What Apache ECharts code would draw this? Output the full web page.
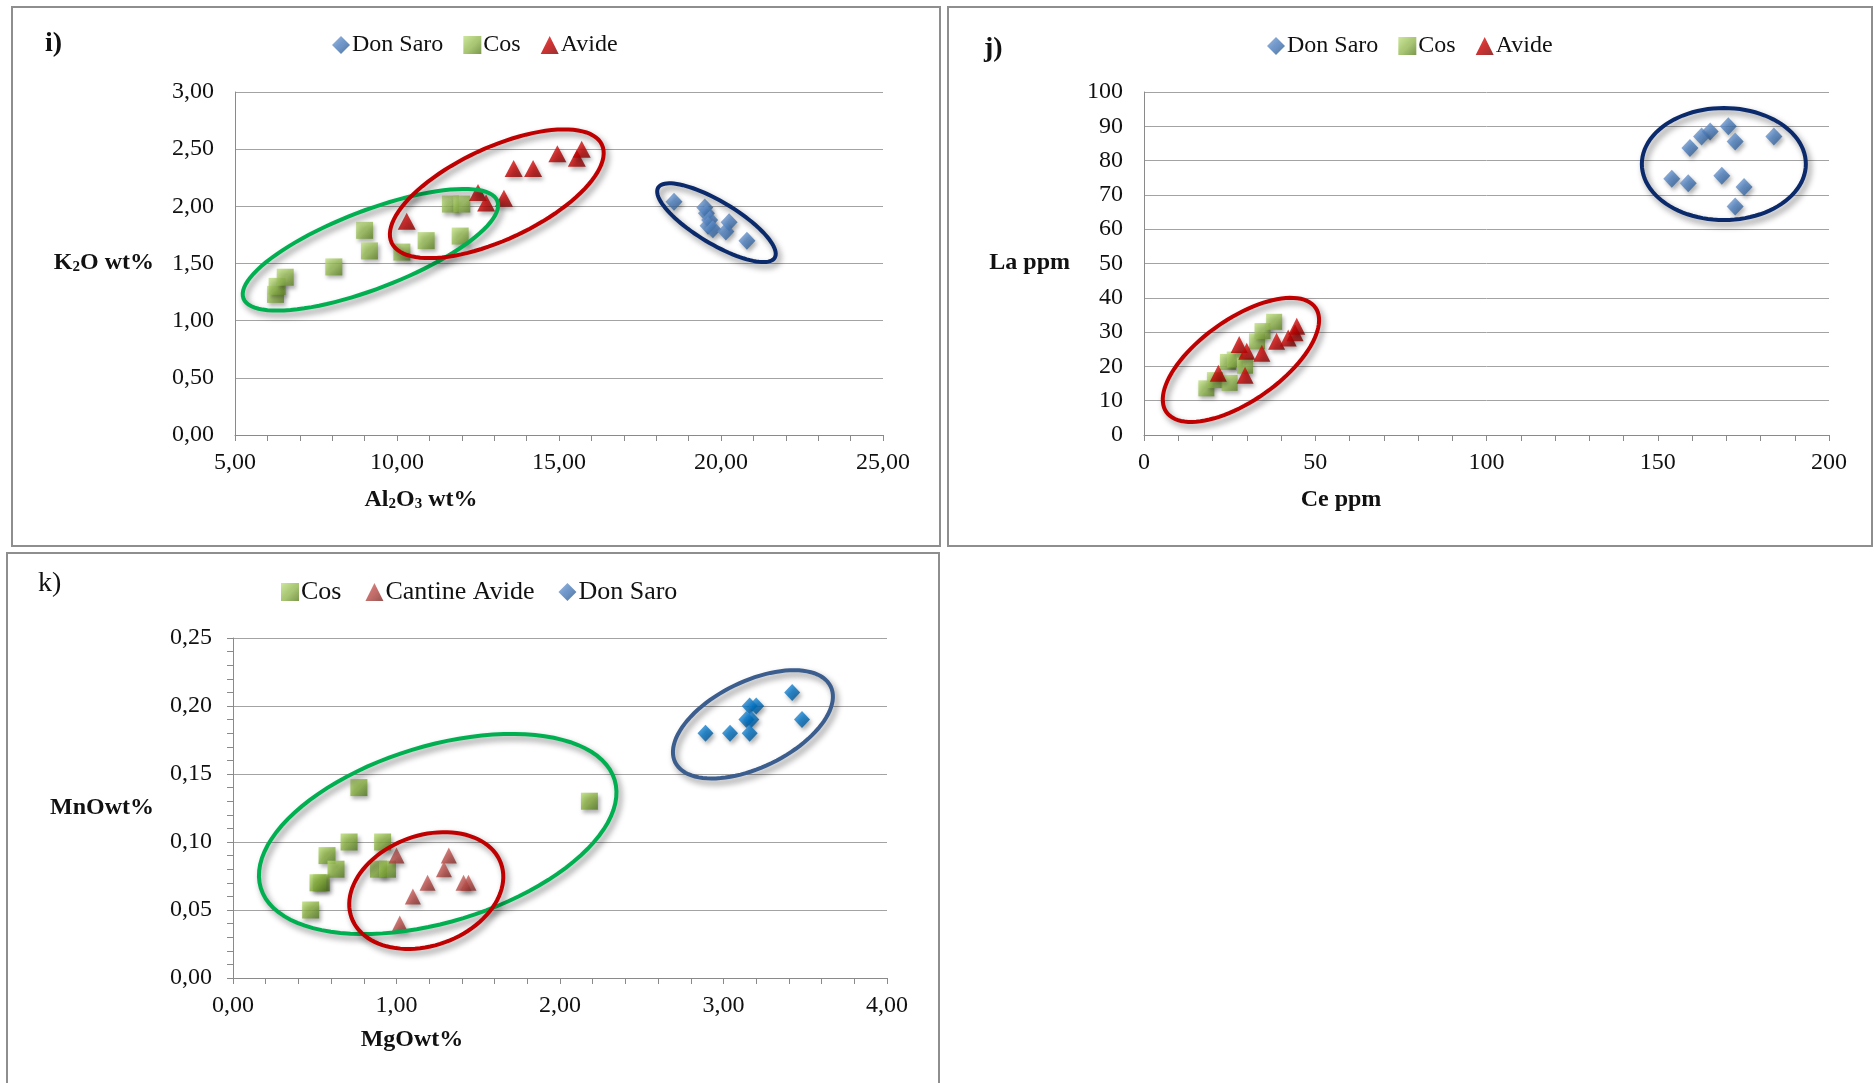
<!DOCTYPE html>
<html>
<head>
<meta charset="utf-8">
<title>Al2O3–K2O, Ce–La, MgO–MnO</title>
<script src="https://cdn.jsdelivr.net/npm/echarts@6/dist/echarts.min.js"></script>
<style>
  html, body { margin: 0; padding: 0; background: #ffffff; }
  #chart { width: 1874px; height: 1083px; }
</style>
</head>
<body>
<div id="chart"></div>
<script>
// ---- i) K2O wt% vs Al2O3 wt%  [Al2O3, K2O]
const donSaroI = [[18.55, 2.04], [19.5, 1.99], [19.55, 1.94], [19.65, 1.88], [19.6, 1.83],
                  [19.75, 1.80], [20.25, 1.86], [20.15, 1.78], [20.8, 1.70]];
const cosI = [[6.25, 1.23], [6.3, 1.30], [6.55, 1.38], [8.05, 1.47], [9.0, 1.79], [9.15, 1.61],
              [10.15, 1.60], [10.9, 1.70], [11.95, 1.74], [11.65, 2.02], [12.0, 2.02]];
const avideI = [[10.3, 1.87], [12.5, 2.12], [12.75, 2.03], [13.3, 2.07], [13.6, 2.33],
                [14.2, 2.33], [14.95, 2.46], [15.55, 2.42], [15.7, 2.50]];

// ---- j) La ppm vs Ce ppm  [Ce, La]
const donSaroJ = [[170.6, 90.0], [165.3, 88.5], [162.8, 87.0], [172.6, 85.6], [159.4, 83.7],
                  [183.9, 87.0], [154.1, 74.7], [158.9, 73.4], [168.7, 75.6], [175.2, 72.3],
                  [172.6, 66.6]];
const cosJ = [[18.2, 13.6], [20.7, 16.0], [24.5, 21.3], [26.5, 22.0], [25.0, 15.2],
              [29.5, 20.2], [33.0, 27.3], [34.6, 30.3], [38.0, 33.0]];
const avideJ = [[21.7, 18.0], [27.8, 26.4], [30.0, 24.4], [34.4, 23.8], [29.5, 17.4],
                [38.7, 27.3], [42.1, 28.3], [44.1, 29.8], [44.6, 31.7]];

// ---- k) MnO wt% vs MgO wt%  [MgO, MnO]
const cosK = [[0.77, 0.14], [2.18, 0.13], [0.71, 0.10], [0.915, 0.10], [0.575, 0.09],
              [0.63, 0.08], [0.54, 0.07], [0.52, 0.07], [0.89, 0.08], [0.945, 0.08],
              [0.475, 0.05]];
const avideK = [[1.0, 0.09], [1.32, 0.09], [1.29, 0.08], [1.19, 0.07], [1.41, 0.07],
                [1.44, 0.07], [1.10, 0.06], [1.02, 0.04]];
const donSaroK = [[3.42, 0.21], [3.16, 0.20], [3.20, 0.20], [3.14, 0.19], [3.17, 0.19],
                  [3.48, 0.19], [2.89, 0.18], [3.04, 0.18], [3.16, 0.18]];

// axis ranges / tick steps
const axisI = { x: [5, 25, 5], y: [0, 3, 0.5] };
const axisJ = { x: [0, 200, 50], y: [0, 100, 10] };
const axisK = { x: [0, 4, 1], y: [0, 0.25, 0.05] };

// ---------------------------------------------------------------------------
const FONT = '"Liberation Serif", "Times New Roman", serif';
const AXIS_GREY = '#8a8a8a';
const GRID_GREY = '#a3a3a3';
const LINE_GREEN = '#00b050';
const LINE_RED = '#c00000';
const LINE_NAVY = '#0b2a6b';
const LINE_STEEL = '#3b5e8e';

const G = echarts.graphic;
function bevel(light, mid, dark) {
  return new G.LinearGradient(0, 0, 1, 1, [
    { offset: 0, color: light }, { offset: 0.48, color: mid },
    { offset: 0.52, color: mid }, { offset: 1, color: dark }
  ]);
}
const markerShadow = {
  shadowBlur: 4, shadowOffsetX: 2, shadowOffsetY: 3, shadowColor: 'rgba(0,0,0,0.38)'
};
const STYLE = {
  blue:    { color: bevel('#86ace0', '#4a7cba', '#244f82'), ...markerShadow },
  green:   { color: bevel('#c2e184', '#94b953', '#5a7e20'), ...markerShadow },
  red:     { color: bevel('#e8302a', '#c00000', '#7a0000'), ...markerShadow },
  greenK:  { color: bevel('#b7dd72', '#86ad3e', '#4f7420'), ...markerShadow },
  redK:    { color: bevel('#d97a74', '#b64a46', '#7d2825'), ...markerShadow },
  blueK:   { color: bevel('#3d9be4', '#0070c0', '#00477e'), ...markerShadow }
};

const comma = d => v => v.toFixed(d).replace('.', ',');

function xAxisOf(grid, r, fmt) {
  return {
    gridIndex: grid, type: 'value', min: r[0], max: r[1], interval: r[2],
    axisLine: { show: true, onZero: false, lineStyle: { color: AXIS_GREY, width: 1 } },
    axisTick: { show: true, length: 6, lineStyle: { color: AXIS_GREY } },
    minorTick: { show: true, splitNumber: 5, length: 6, lineStyle: { color: AXIS_GREY } },
    splitLine: { show: false },
    axisLabel: { margin: 16, fontFamily: FONT, fontSize: 24, color: '#111', formatter: fmt }
  };
}
function yAxisOf(grid, r, fmt, ticks) {
  return {
    gridIndex: grid, type: 'value', min: r[0], max: r[1], interval: r[2],
    axisLine: { show: true, onZero: false, lineStyle: { color: AXIS_GREY, width: 1 } },
    axisTick: { show: ticks, length: 6, lineStyle: { color: AXIS_GREY } },
    minorTick: { show: ticks, splitNumber: 5, length: 6, lineStyle: { color: AXIS_GREY } },
    splitLine: { show: true, lineStyle: { color: GRID_GREY, width: 1 } },
    axisLabel: { margin: 21, fontFamily: FONT, fontSize: 24, color: '#111', formatter: fmt }
  };
}

function scatter(grid, name, data, symbol, size, style) {
  return {
    type: 'scatter', name, data, symbol, symbolSize: size,
    xAxisIndex: grid, yAxisIndex: grid, itemStyle: style, z: 3,
    emphasis: { disabled: true }
  };
}

// hand-drawn style group outlines (centre in axis units, radii in px, tilt in degrees)
function outline(grid, o) {
  return {
    type: 'custom', xAxisIndex: grid, yAxisIndex: grid, silent: true, z: 8, clip: false,
    data: [o.center],
    renderItem(params, api) {
      const c = api.coord([api.value(0), api.value(1)]);
      const t = o.tilt * Math.PI / 180, ct = Math.cos(t), st = Math.sin(t);
      const pts = [];
      for (let i = 0; i < 96; i++) {
        const a = i / 96 * Math.PI * 2;
        const ex = o.rx * Math.cos(a), ey = o.ry * Math.sin(a);
        pts.push([c[0] + ex * ct - ey * st, c[1] - (ex * st + ey * ct)]);
      }
      return {
        type: 'polygon', shape: { points: pts },
        style: {
          fill: 'none', stroke: o.color, lineWidth: 4,
          shadowBlur: 6, shadowOffsetX: 3, shadowOffsetY: 4, shadowColor: 'rgba(0,0,0,0.45)'
        }
      };
    }
  };
}

const outlinesI = [
  { center: [9.18, 1.62], rx: 136, ry: 39, tilt: 21, color: LINE_GREEN },
  { center: [13.08, 2.11], rx: 116, ry: 46, tilt: 25, color: LINE_RED },
  { center: [19.86, 1.857], rx: 68, ry: 21, tilt: -31, color: LINE_NAVY }
];
const outlinesJ = [
  { center: [169.3, 79.0], rx: 82, ry: 56, tilt: 0, color: LINE_NAVY },
  { center: [28.3, 21.9], rx: 91, ry: 41, tilt: 35, color: LINE_RED }
];
const outlinesK = [
  { center: [1.252, 0.1059], rx: 185, ry: 88, tilt: 17, color: LINE_GREEN },
  { center: [1.182, 0.0643], rx: 79.5, ry: 55, tilt: 20, color: LINE_RED },
  { center: [3.18, 0.1865], rx: 86.5, ry: 43, tilt: 26, color: LINE_STEEL }
];

function legendOf(left, top, names, gap, size) {
  return {
    left, top, orient: 'horizontal', itemGap: gap, itemWidth: 18, itemHeight: 18,
    selectedMode: false, data: names,
    itemStyle: { shadowBlur: 0, shadowOffsetX: 0, shadowOffsetY: 0 },
    textStyle: { fontFamily: FONT, fontSize: size, color: '#111', padding: [0, 0, 0, -3] }
  };
}

const nameFont = { fontFamily: FONT, fontSize: 24, fontWeight: 'bold', fill: '#111' };
const subFont = { fontFamily: FONT, fontSize: 15, fontWeight: 'bold', fill: '#111', verticalAlign: 'bottom' };
function label(x, y, text, align, extra) {
  return {
    type: 'text', x, y, z: 20,
    style: Object.assign({
      text, align, verticalAlign: 'middle', fill: '#111',
      font: 'bold 24px ' + FONT,
      rich: { n: nameFont, s: subFont }
    }, extra || {})
  };
}
function frame(x, y, w, h) {
  return { type: 'rect', shape: { x, y, width: w, height: h }, z: 0,
           style: { fill: 'none', stroke: '#8e8e8e', lineWidth: 2 } };
}

const chart = echarts.init(document.getElementById('chart'), null, { renderer: 'canvas' });
chart.setOption({
  backgroundColor: '#ffffff',
  animation: false,
  grid: [
    { left: 235, top: 92, width: 648, height: 343, containLabel: false },
    { left: 1144, top: 92, width: 685, height: 343, containLabel: false },
    { left: 233, top: 638, width: 654, height: 340, containLabel: false }
  ],
  xAxis: [
    xAxisOf(0, axisI.x, comma(2)),
    xAxisOf(1, axisJ.x, v => String(v)),
    xAxisOf(2, axisK.x, comma(2))
  ],
  yAxis: [
    yAxisOf(0, axisI.y, comma(2), false),
    yAxisOf(1, axisJ.y, v => String(v), false),
    yAxisOf(2, axisK.y, comma(2), true)
  ],
  legend: [
    legendOf(327, 28, ['Don Saro', 'Cos', 'Avide'], 20, 24),
    legendOf(1262, 29, ['Don Saro', 'Cos', 'Avide'], 20, 24),
    legendOf(276, 574, ['Cos', 'Cantine Avide', 'Don Saro'], 24, 26)
  ],
  graphic: [
    frame(12, 7, 928, 539),
    frame(948, 7, 924, 539),
    frame(7, 553, 932, 540),
    label(45, 44, 'i)', 'left', { font: 'bold 28px ' + FONT }),
    label(984, 49, 'j)', 'left', { font: 'bold 28px ' + FONT }),
    label(38, 584, 'k)', 'left', { font: '28px ' + FONT }),
    label(154, 263, '{n|K}{s|2}{n|O wt%}', 'right'),
    label(421, 500, '{n|Al}{s|2}{n|O}{s|3}{n| wt%}', 'center'),
    label(1070, 263, 'La ppm', 'right'),
    label(1341, 500, 'Ce ppm', 'center'),
    label(154, 808, 'MnOwt%', 'right'),
    label(412, 1040, 'MgOwt%', 'center')
  ],
  series: [
    scatter(0, 'Don Saro', donSaroI, 'diamond', [17, 18], STYLE.blue),
    scatter(0, 'Cos', cosI, 'rect', 17, STYLE.green),
    scatter(0, 'Avide', avideI, 'triangle', [18, 17], STYLE.red),
    ...outlinesI.map(o => outline(0, o)),

    scatter(1, 'Don Saro', donSaroJ, 'diamond', [17, 18], STYLE.blue),
    scatter(1, 'Cos', cosJ, 'rect', 16, STYLE.green),
    scatter(1, 'Avide', avideJ, 'triangle', [17, 17], STYLE.red),
    ...outlinesJ.map(o => outline(1, o)),

    scatter(2, 'Cos', cosK, 'rect', 17, STYLE.greenK),
    scatter(2, 'Cantine Avide', avideK, 'triangle', [16, 16], STYLE.redK),
    scatter(2, 'Don Saro', donSaroK, 'diamond', [16, 17], STYLE.blueK),
    ...outlinesK.map(o => outline(2, o))
  ]
});
</script>
</body>
</html>
